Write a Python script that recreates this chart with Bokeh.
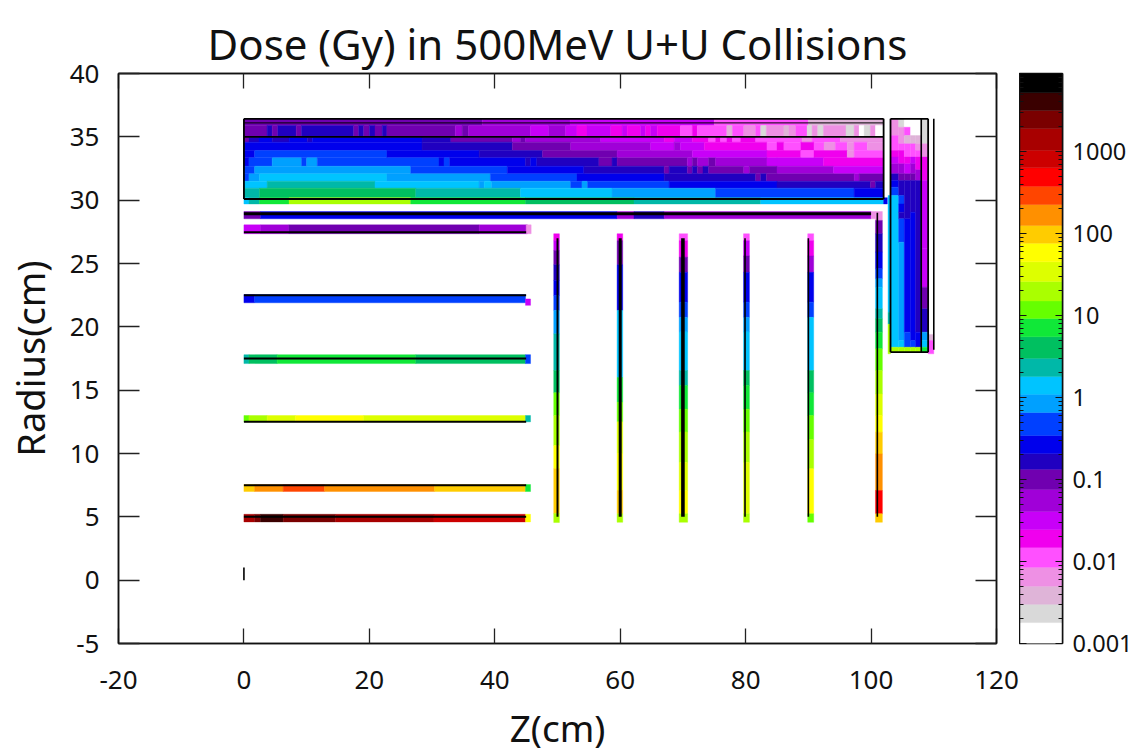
from bokeh.plotting import figure
from bokeh.layouts import row
from bokeh.models import ColumnDataSource, FixedTicker, LinearAxis, LogAxis, Range1d
from bokeh.embed import file_html
from bokeh.resources import INLINE
import numpy as np

# ---- colour scale: dose level edges (Gy) and one colour per band
LEVELS = [0.001, 0.0018, 0.003, 0.005, 0.0085, 0.0148, 0.0245, 0.0407, 0.0755, 0.133,
          0.207, 0.344, 0.656, 1.09, 1.8, 3.0, 5.5, 9.2, 15, 26, 45, 76, 125, 225,
          375, 630, 1030, 1900, 3160, 5200, 8900]
PALETTE = ["#ffffff", "#d9d9d9", "#dfb4d8", "#ee90e4", "#ff50ff", "#f000ee", "#c800f8",
           "#a000d8", "#7000b0", "#2000c0", "#0000ec", "#0040ff", "#00a0ff", "#00c4ff",
           "#00b8a8", "#00c060", "#10e838", "#66ff00", "#aaff00", "#ddff00", "#ffff00",
           "#ffcc00", "#ff9000", "#ff4500", "#ff0000", "#cc0000", "#a80000", "#7a0000",
           "#3a0000", "#000000"]
# a dose of each band (Gy), addressed by band number in the tables below
DOSE = [0.0012, 0.0023, 0.004, 0.0065, 0.011, 0.019, 0.032, 0.055, 0.1, 0.165, 0.27, 0.47,
        0.85, 1.4, 2.3, 4, 7, 12, 20, 35, 60, 100, 170, 290, 490, 800, 1400, 2500, 4000, 6500]

X_TICKS = [-20, 0, 20, 40, 60, 80, 100, 120]
Y_TICKS = [-5, 0, 5, 10, 15, 20, 25, 30, 35, 40]
CB_MAJOR = [0.001, 0.01, 0.1, 1, 10, 100, 1000]
CB_MINOR = [m * d for d in [0.001, 0.01, 0.1, 1, 10, 100, 1000] for m in range(2, 10) if m * d <= 8900]

# ---- horizontal rows of the outer block: (y_top, y_bottom, z edges, bands)
block_rows = [
    (36.42, 35.9, [0, 38, 52, 75, 90, 102], [8, 7, 6, 4, 2]),
    (35.9, 34.97, [0, 3.7, 4.5, 5.4, 8.33, 9.18, 17.5, 18.3, 19.1, 20, 20.9, 22.05, 22.8, 33.7, 34.8, 35.8, 45.7,
                   48.6, 51.3, 53.1, 54.7, 58.5, 60.3, 61.1, 63.25, 64.05, 64.85, 65.9, 69.6, 71.5, 72.3, 77, 77.9,
                   79.7, 81.6, 82.4, 83.3, 86.1, 86.9, 88, 89.8, 90.6, 91.5, 92.4, 96, 97.3, 98.1, 98.9, 99.9, 100.7, 102],
     [8, 9, 8, 9, 8, 9, 8, 9, 8, 9, 8, 9, 8, 7, 8, 7, 6, 7, 6, 5, 6, 5, 6, 5, 6, 5, 6, 5, 4, 5, 4, 2, 4, 3, 4, 1, 3, 2,
      3, 4, 1, 3, 1, 3, 1, 3, 0, 1, 3, 0]),
    (34.97, 34.58, [0, 0.8, 2.4, 4.5, 7.2, 10.1, 10.9, 28.4, 33, 42.8, 44.1, 44.9, 56.9, 67, 68.6, 71.5, 74.1, 75.2,
                    76, 77, 77.9, 79.2, 81.6, 89, 90.6, 95.1, 102],
     [8, 9, 10, 9, 10, 9, 10, 9, 8, 7, 8, 7, 6, 5, 6, 5, 4, 5, 4, 5, 4, 5, 4, 3, 4, 3]),
    (34.58, 33.92, [0, 28.4, 42.8, 52.1, 64.85, 68.6, 69.6, 73.4, 83.4, 85, 86.1, 88.8, 90.9, 92.5, 94.3, 96.2, 97.3, 99.4, 102],
     [10, 9, 8, 7, 6, 7, 6, 5, 4, 5, 4, 5, 4, 3, 4, 3, 4, 3]),
    (33.92, 33.34, [0, 1.7, 22.8, 37.5, 47.6, 59.5, 71.5, 83.4, 88.8, 90.9, 96.2, 97.3, 102],
     [10, 11, 10, 9, 8, 7, 6, 5, 4, 5, 3, 4]),
    (33.34, 32.68, [0, 0.8, 4.5, 9.2, 10, 11.7, 31.1, 31.9, 32.8, 44.9, 45.7, 46.7, 56.6, 58.7, 59.5, 70.7, 71.5, 72.3,
                    74.1, 75.2, 83.4, 85, 92.4, 102],
     [10, 11, 12, 11, 12, 11, 10, 11, 10, 9, 10, 9, 8, 9, 8, 7, 8, 7, 8, 7, 6, 6, 5]),
    (32.68, 32.08, [0, 1.7, 26.6, 42, 54.2, 67, 67.8, 70.7, 71.5, 72.3, 73.2, 74.1, 79.7, 80.6, 85, 94, 102],
     [11, 12, 11, 10, 9, 8, 9, 8, 9, 8, 9, 8, 7, 8, 7, 6]),
    (32.08, 31.5, [0, 0.8, 2.5, 22.8, 39.3, 53.1, 67, 81.6, 82.4, 83.3, 97.3, 98.1, 102],
     [11, 12, 13, 12, 11, 10, 9, 8, 9, 8, 7, 8]),
    (31.5, 30.95, [0, 3.7, 20.9, 37.5, 38.3, 39.5, 52.1, 53.9, 54.8, 67.8, 85, 99.9, 100.7, 102],
     [13, 14, 13, 12, 13, 12, 11, 12, 11, 10, 9, 8, 9]),
    (30.95, 30.2, [0, 2.5, 27.4, 44.1, 58.7, 75.2, 97.3, 102], [14, 15, 14, 13, 12, 11, 10]),
    (30.2, 29.7, [0, 0.8, 2.5, 7.2, 26.6, 44.9, 62.2, 82.4, 102, 102.6], [13, 14, 16, 18, 16, 15, 14, 13, 10]),
    # thin layers and their end caps
    (29.1, 28.53, [0, 2.65, 59.5, 62.2, 67, 100, 100.7], [8, 10, 7, 9, 7, 3]),
    (28.05, 27.35, [0, 2.65, 7.16, 37.5, 45.2], [6, 7, 8, 7]),
    (28.05, 27.35, [45.0, 45.8], [3]),
    (22.55, 21.9, [0, 1.7, 44.9], [10, 11]),
    (22.2, 21.7, [44.9, 45.7], [6]),
    (17.8, 17.1, [0, 0.8, 5.3, 27.4, 44.9, 45.7], [14, 15, 16, 15, 11]),
    (13.0, 12.5, [0, 0.8, 3.7, 8.2, 19.1, 44.9, 45.7], [17, 18, 19, 20, 19, 14]),
    (7.55, 7.0, [0, 1.7, 6.26, 12.85, 30.4, 44.9, 45.7], [21, 22, 23, 22, 21, 16]),
    (5.2, 4.6, [0, 1.7, 2.65, 6.26, 14.6, 30.3, 44.9, 45.7], [26, 27, 28, 27, 26, 25, 20]),
]

# ---- vertical columns: (z_left, z_right, y edges from the top down, bands)
columns = [
    (49.4, 50.3, [27.35, 26.8, 26.03, 24.9, 23.66, 22.47, 21.3, 19.45, 16.55, 14.8, 13, 10.63, 8.8, 5.26, 4.55],
     [5, 6, 8, 9, 10, 11, 12, 14, 15, 17, 18, 20, 21, 18]),
    (59.5, 60.4, [27.35, 26.8, 24.9, 21.3, 16, 14.05, 12.5, 10, 7.08, 5.24, 4.57],
     [5, 8, 10, 13, 16, 17, 19, 20, 21, 18]),
    (69.4, 70.75, [27.35, 26.8, 25.5, 24.3, 21.95, 20.75, 19.6, 16.55, 15.37, 13.5, 11.7, 9.3, 7.08, 5.24, 4.57],
     [4, 5, 8, 10, 11, 12, 13, 14, 16, 17, 18, 19, 20, 18]),
    (79.66, 80.6, [27.35, 26.8, 25.6, 24.3, 21.95, 20.75, 19.6, 16.55, 15.37, 13.5, 11.7, 9.3, 5.24, 4.57],
     [4, 6, 8, 10, 11, 12, 13, 15, 16, 17, 18, 19, 18]),
    (89.9, 90.85, [27.35, 26.8, 25.6, 24.3, 21.95, 20.75, 16.55, 14.8, 13, 11.1, 8.8, 5.24, 4.57],
     [4, 5, 7, 10, 11, 13, 15, 16, 17, 18, 20, 17]),
    (100.7, 101.8, [29.1, 28.4, 27.35, 25.9, 24.58, 23.8, 23.13, 21.42, 20.63, 19.58, 18.26, 16.55, 14.7, 13, 11.68, 9.97,
                    7.08, 5.24, 4.57],
     [3, 8, 9, 10, 11, 12, 13, 14, 15, 16, 17, 18, 19, 20, 21, 22, 24, 21]),
    # outer end block, from z = 102.7 to 110
    (102.7, 103.1, [30.37, 21.16, 20.2, 18, 17.87], [13, 14, 18, 18]),
    (103.1, 104.4, [36.42, 35.1, 33.92, 33.4, 32.87, 32.08, 31.55, 31.02, 30.37, 18.39, 18],
     [3, 4, 5, 6, 7, 9, 10, 11, 13, 18]),
    (104.4, 105.3, [36.42, 35.76, 34.45, 33.92, 32.87, 32.08, 31.55, 30.37, 29.7, 29.05, 28.53, 26.68, 18.92, 18.39, 18],
     [1, 3, 4, 5, 7, 8, 9, 11, 10, 9, 11, 12, 13, 18]),
    (105.3, 106.3, [36.42, 35.76, 35.1, 34.45, 33.4, 32.87, 32.08, 31.55, 28.53, 19.58, 18.39, 18],
     [0, 4, 2, 4, 5, 6, 8, 9, 10, 11, 18]),
    (106.3, 107.1, [36.42, 35.1, 34.45, 33.4, 32.87, 32.08, 31.55, 29.05, 18.92, 18.39, 18],
     [0, 2, 4, 6, 7, 8, 9, 10, 11, 18]),
    (107.1, 108.05, [36.42, 35.1, 34.45, 33.92, 33.4, 32.4, 31.55, 19.58, 18.39, 18],
     [0, 2, 3, 4, 5, 7, 9, 10, 18]),
    (108.05, 109.1, [36.42, 34.45, 33.4, 31.55, 26.16, 23.13, 21.42, 19.58, 18.92, 18.39, 18],
     [1, 3, 5, 6, 6, 8, 9, 12, 13, 16]),
    (109.1, 110, [19.4, 18.92, 17.87], [2, 4]),
]

# ---- black outline segments of the geometry (z0, y0, z1, y1, width)
segments = [
    (0, 36.42, 102, 36.42, 1.8), (0, 36.1, 102, 36.1, 1.0), (0, 35.0, 102, 35.0, 1.6),
    (0, 30.1, 102, 30.1, 2.0), (0, 30.1, 0, 36.42, 1.8), (102, 30.1, 102, 36.42, 1.8),
    (103.1, 36.42, 109.1, 36.42, 1.8), (103.1, 18, 109.1, 18, 1.8), (103.1, 18, 103.1, 36.42, 1.8),
    (109.1, 18, 109.1, 36.42, 1.8), (108.0, 18, 108.0, 36.42, 1.6), (110, 18.2, 110, 36.42, 1.6),
    (0, 28.92, 100, 28.92, 3.0), (0, 27.47, 45, 27.47, 2.0), (0, 22.5, 45, 22.5, 2.0),
    (0, 17.5, 45, 17.5, 2.0), (0, 12.5, 45, 12.5, 2.0), (0, 7.5, 45, 7.5, 2.0), (0, 5, 45, 5, 2.0),
    (50, 5, 50, 27, 2.0), (60, 5, 60, 27, 3.0), (70, 5, 70, 27, 3.6), (79.9, 5, 79.9, 27, 1.6),
    (90, 5, 90, 27, 1.6), (101, 5, 101, 29, 1.6), (0, 0, 0, 1, 1.6),
]

# ---- build the cells from the tables
q = {"l": [], "r": [], "t": [], "b": [], "dose": []}
for y_top, y_bot, z, bands in block_rows:
    for i, band in enumerate(bands):
        q["l"].append(z[i]); q["r"].append(z[i + 1]); q["t"].append(y_top); q["b"].append(y_bot)
        q["dose"].append(DOSE[band])
for z0, z1, y, bands in columns:
    for i, band in enumerate(bands):
        q["l"].append(z0); q["r"].append(z1); q["t"].append(y[i]); q["b"].append(y[i + 1])
        q["dose"].append(DOSE[band])
q["color"] = [PALETTE[int(np.searchsorted(LEVELS, d)) - 1] for d in q["dose"]]

FONT = "Noto Sans"
p = figure(frame_width=878, frame_height=570, output_backend="svg", toolbar_location=None,
           x_range=Range1d(-20, 120), y_range=Range1d(-5, 40),
           min_border_left=109, min_border_right=23, min_border_top=73, min_border_bottom=100,
           title="Dose (Gy) in 500MeV U+U Collisions")
p.title.text_font = FONT
p.title.text_font_size = "42px"
p.title.text_font_style = "normal"
p.title.text_color = "#111111"
p.title.align = "center"
p.title.vertical_align = "top"
p.title.standoff = 0
p.grid.visible = False
p.outline_line_color = "#111111"
p.outline_line_width = 1.5
p.background_fill_color = "white"
p.border_fill_color = "white"

p.quad(left="l", right="r", top="t", bottom="b", fill_color="color", line_color="color", line_width=0.4,
       source=ColumnDataSource(q))
p.segment(x0=[s[0] for s in segments], y0=[s[1] for s in segments], x1=[s[2] for s in segments], y1=[s[3] for s in segments],
          line_width=[s[4] for s in segments], line_color="black")

def style(ax, ticks, length, labels=True):
    ax.ticker = FixedTicker(ticks=ticks)
    ax.major_tick_in = length
    ax.major_tick_out = 0
    ax.minor_tick_in = 0
    ax.minor_tick_out = 0
    ax.major_tick_line_color = "#222222"
    ax.major_tick_line_width = 1.3
    ax.axis_line_color = "#111111"
    ax.axis_line_width = 1.5
    ax.major_label_text_font = FONT
    ax.major_label_text_color = "#111111"
    if labels:
        ax.major_label_overrides = {t: str(t) for t in ticks}
    else:
        ax.major_label_overrides = {t: "" for t in ticks}
        ax.major_label_standoff = 0

style(p.xaxis[0], X_TICKS, 15)
style(p.yaxis[0], Y_TICKS, 21)
p.xaxis[0].major_label_text_font_size = "26px"
p.yaxis[0].major_label_text_font_size = "26px"
p.xaxis[0].major_label_standoff = 27
p.yaxis[0].major_label_standoff = 19
p.xaxis[0].axis_label = "Z(cm)"
p.yaxis[0].axis_label = "Radius(cm)"
for ax in (p.xaxis[0], p.yaxis[0]):
    ax.axis_label_text_font = FONT
    ax.axis_label_text_font_style = "normal"
    ax.axis_label_text_color = "#111111"
p.xaxis[0].axis_label_text_font_size = "37px"
p.yaxis[0].axis_label_text_font_size = "38px"
p.xaxis[0].axis_label_standoff = 10
p.yaxis[0].axis_label_standoff = 11
top_ax = LinearAxis(); style(top_ax, X_TICKS, 15, labels=False); top_ax.major_label_standoff = 13
p.add_layout(top_ax, "above")
right_ax = LinearAxis(); style(right_ax, Y_TICKS, 21, labels=False); p.add_layout(right_ax, "right")

# ---- colour bar
cb = figure(frame_width=43, frame_height=570, output_backend="svg", toolbar_location=None,
            x_range=Range1d(0, 1), y_range=Range1d(LEVELS[0], LEVELS[-1]), y_axis_type="log", y_axis_location="right",
            min_border_left=0, min_border_right=70, min_border_top=73, min_border_bottom=100)
cb.grid.visible = False
cb.xaxis.visible = False
cb.outline_line_color = "#111111"
cb.outline_line_width = 1.5
cb.quad(left=0, right=1, bottom=LEVELS[:-1], top=LEVELS[1:], fill_color=PALETTE, line_color=PALETTE, line_width=0.4)

def style_cb(ax, labels=True):
    ax.ticker = FixedTicker(ticks=CB_MAJOR, minor_ticks=CB_MINOR)
    ax.major_tick_in = 7
    ax.major_tick_out = 0
    ax.minor_tick_in = 4
    ax.minor_tick_out = 0
    ax.major_tick_line_color = "#111111"
    ax.minor_tick_line_color = "#111111"
    ax.major_tick_line_width = 1.2
    ax.minor_tick_line_width = 1.2
    ax.axis_line_color = "#111111"
    ax.axis_line_width = 1.5
    ax.major_label_text_font = FONT
    ax.major_label_text_font_size = "23.5px"
    ax.major_label_text_color = "#111111"
    ax.major_label_standoff = 10
    ax.major_label_overrides = {t: ("" if not labels else str(t)) for t in CB_MAJOR}

style_cb(cb.yaxis[0])
left_cb = LogAxis(); style_cb(left_cb, labels=False); left_cb.major_label_standoff = 0
cb.add_layout(left_cb, "left")

page = row(p, cb, spacing=0)
open("out.html", "w").write(file_html(page, INLINE))
